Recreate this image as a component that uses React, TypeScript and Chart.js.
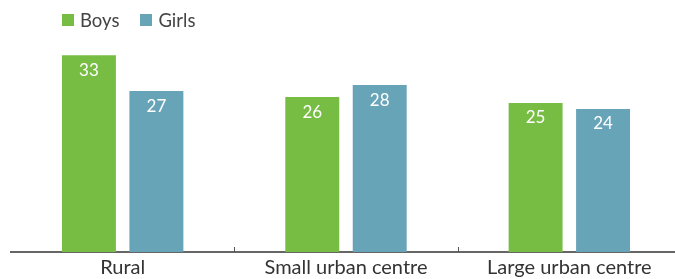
import React, { useEffect, useRef } from "react";
import { Chart, registerables } from "chart.js";

Chart.register(...registerables);

const categories = ["Rural", "Small urban centre", "Large urban centre"];
const boys = [33, 26, 25];
const girls = [27, 28, 24];
const seriesNames = ["Boys", "Girls"];
const seriesColors = ["#78bd43", "#68a4b8"];

const FONT = "Lato, 'Open Sans', sans-serif";

const valueLabels = {
  id: "valueLabels",
  afterDatasetsDraw(chart: any) {
    const ctx = chart.ctx;
    ctx.save();
    ctx.fillStyle = "#ffffff";
    ctx.font = `17px ${FONT}`;
    ctx.textAlign = "center";
    ctx.textBaseline = "middle";
    chart.data.datasets.forEach((ds: any, di: number) => {
      const meta = chart.getDatasetMeta(di);
      meta.data.forEach((el: any, i: number) => {
        ctx.fillText(String(ds.data[i]), el.x, el.y + 15);
      });
    });
    ctx.restore();
  },
};

const boundaryTicks = {
  id: "boundaryTicks",
  afterDraw(chart: any) {
    const ctx = chart.ctx;
    const xs = chart.scales.x;
    const bottom = chart.chartArea.bottom;
    ctx.save();
    ctx.strokeStyle = "#555";
    ctx.lineWidth = 1;
    for (let i = 1; i < categories.length; i++) {
      const px = Math.round((xs.getPixelForValue(i - 1) + xs.getPixelForValue(i)) / 2) + 0.5;
      ctx.beginPath();
      ctx.moveTo(px, bottom - 5);
      ctx.lineTo(px, bottom);
      ctx.stroke();
    }
    ctx.restore();
  },
};

export default function App() {
  const ref = useRef<HTMLCanvasElement>(null);
  useEffect(() => {
    if (!ref.current) return;
    const chart = new Chart(ref.current, {
      type: "bar",
      data: {
        labels: categories,
        datasets: [
          { label: seriesNames[0], data: boys, backgroundColor: seriesColors[0] },
          { label: seriesNames[1], data: girls, backgroundColor: seriesColors[1] },
        ],
      },
      options: {
        responsive: false,
        animation: false,
        layout: { padding: { left: 11, right: 9, top: 43.4, bottom: 0 } },
        datasets: { bar: { categoryPercentage: 0.604, barPercentage: 0.8 } },
        plugins: { legend: { display: false }, tooltip: { enabled: false } },
        scales: {
          x: {
            grid: { display: false, drawTicks: false },
            border: { display: true, color: "#666", width: 2 },
            ticks: { color: "#333", font: { family: FONT, size: 20 }, padding: 4 },
            afterFit: (s: any) => {
              s.height = 27;
            },
          },
          y: { display: false, min: 0, max: 35 },
        },
      },
      plugins: [valueLabels, boundaryTicks],
    });
    return () => chart.destroy();
  }, []);

  return (
    <div style={{ position: "fixed", left: 0, top: 0, width: 675, height: 279, overflow: "hidden", background: "#fff" }}>
      <canvas ref={ref} width={690} height={279} style={{ position: "absolute", left: 0, top: 0 }} />
      <div
        style={{
          position: "absolute",
          left: 62,
          top: 9,
          display: "flex",
          alignItems: "center",
          fontFamily: FONT,
          fontSize: 18.5,
          color: "#444",
        }}
      >
        {seriesNames.map((n, i) => (
          <div key={n} style={{ display: "flex", alignItems: "center", marginRight: 21 }}>
            <span style={{ display: "inline-block", width: 12, height: 12, background: seriesColors[i], marginRight: 6 }} />
            <span>{n}</span>
          </div>
        ))}
      </div>
    </div>
  );
}
